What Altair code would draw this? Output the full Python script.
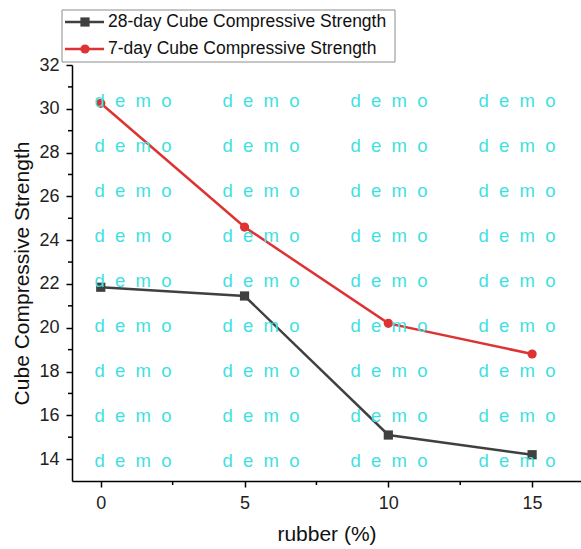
import altair as alt
import pandas as pd

# Measured series
rubber = [0, 5, 10, 15]
strength_28d = [21.85, 21.45, 15.1, 14.2]
strength_7d = [30.25, 24.6, 20.2, 18.8]
series_names = ["28-day Cube Compressive Strength", "7-day Cube Compressive Strength"]

# Axis ticks
x_major = [0, 5, 10, 15]
x_minor = [2.5, 7.5, 12.5]
y_major = list(range(14, 33, 2))
y_minor = list(range(15, 32, 2))

series_colors = ["#404040", "#dd3333"]
series_shapes = ["square", "circle"]
FONT = "Liberation Sans"
W, H = 509, 416

rows = []
for name, vals in zip(series_names, [strength_28d, strength_7d]):
    for x, v in zip(rubber, vals):
        rows.append({"rubber": x, "strength": v, "series": name})
df = pd.DataFrame(rows)

x_scale = alt.Scale(domain=[-1, 16.7], nice=False, zero=False)
y_scale = alt.Scale(domain=[13, 32], nice=False, zero=False)
color_scale = alt.Scale(domain=series_names, range=series_colors)
shape_scale = alt.Scale(domain=series_names, range=series_shapes)

x_axis = alt.Axis(values=x_major, title="rubber (%)", tickSize=6, labelPadding=7,
                  titlePadding=11, labelFontSize=18, titleFontSize=21,
                  titleFontWeight="normal", format="d")
y_axis = alt.Axis(values=y_major, title="Cube Compressive Strength", tickSize=6,
                  labelPadding=7, titlePadding=6, labelFontSize=18, titleFontSize=21,
                  titleFontWeight="normal")


def xq(field):
    return alt.X(field + ":Q", scale=x_scale, axis=x_axis)


def yq(field):
    return alt.Y(field + ":Q", scale=y_scale, axis=y_axis)


base = alt.Chart(df)
lines = base.mark_line(strokeWidth=2.5).encode(
    x=xq("rubber"), y=yq("strength"),
    color=alt.Color("series:N", scale=color_scale, legend=None),
    detail="series:N",
)
points = base.mark_point(filled=True, size=85, opacity=1).encode(
    x=xq("rubber"), y=yq("strength"),
    color=alt.Color("series:N", scale=color_scale, legend=None),
    shape=alt.Shape("series:N", scale=shape_scale, legend=None),
)

# Minor ticks on both axes
ym = alt.Chart(pd.DataFrame({"strength": y_minor})).mark_rule(
    color="black", strokeWidth=1.5).encode(
    y=yq("strength"), x=alt.value(-4), x2=alt.value(0))
xm = alt.Chart(pd.DataFrame({"rubber": x_minor})).mark_rule(
    color="black", strokeWidth=1.5).encode(
    x=xq("rubber"), y=alt.value(H), y2=alt.value(H + 4))

# Legend box
leg_df = pd.DataFrame({
    "series": series_names,
    "ly": [-43 + 27 * i for i in range(len(series_names))],
})
leg_box = alt.Chart(pd.DataFrame({"k": [0]})).mark_rect(
    fill="white", stroke="#8c8c8c", strokeWidth=1).encode(
    x=alt.value(-10), x2=alt.value(323), y=alt.value(-55), y2=alt.value(-3))
leg_line = alt.Chart(leg_df).mark_rule(strokeWidth=2.5).encode(
    x=alt.value(-7), x2=alt.value(32),
    y=alt.Y("ly:Q", scale=None),
    color=alt.Color("series:N", scale=color_scale, legend=None))
leg_pt = alt.Chart(leg_df).mark_point(filled=True, size=85, opacity=1).encode(
    x=alt.value(13), y=alt.Y("ly:Q", scale=None),
    color=alt.Color("series:N", scale=color_scale, legend=None),
    shape=alt.Shape("series:N", scale=shape_scale, legend=None))
leg_txt = alt.Chart(leg_df).mark_text(
    align="left", baseline="middle", fontSize=17.5, font=FONT, color="#111").encode(
    x=alt.value(36), y=alt.Y("ly:Q", scale=None), text="series:N")

# Watermark grid
wm = pd.DataFrame([
    {"wx": 61 + 128 * c, "wy": 36 + 45 * r, "t": "d\u00a0\u00a0e\u00a0\u00a0m\u00a0\u00a0o"}
    for r in range(9) for c in range(4)
])
watermark = alt.Chart(wm).mark_text(
    fontSize=18.5, font=FONT, color="#3fe0e3", align="center", baseline="middle").encode(
    x=alt.X("wx:Q", scale=None), y=alt.Y("wy:Q", scale=None), text="t:N")

chart = alt.layer(
    lines, points, ym, xm, leg_box, leg_line, leg_pt, leg_txt, watermark
).properties(
    width=W, height=H,
    autosize=alt.AutoSizeParams(type="none"),
    padding={"left": 72, "top": 65, "right": 0, "bottom": 68},
).configure(
    font=FONT, background="white"
).configure_view(
    stroke=None
).configure_axis(
    grid=False, domainColor="black", domainWidth=1.5, tickColor="black",
    tickWidth=1.5, labelColor="#222", titleColor="#111", labelFont=FONT, titleFont=FONT,
)

chart.save("out.html", embed_options={"renderer": "svg", "actions": False})
